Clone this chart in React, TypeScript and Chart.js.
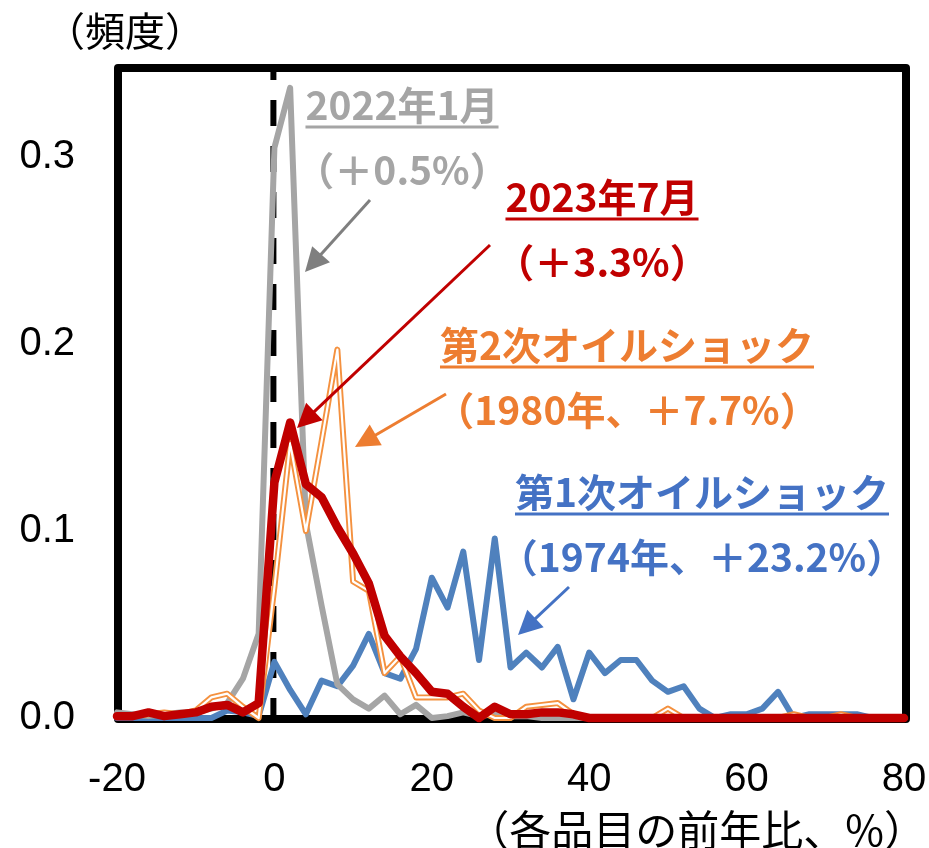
import React, { useEffect, useRef } from 'react';
import { Chart, registerables } from 'chart.js';

Chart.register(...registerables);

// ---- data (x: 前年比 bins, 2% step) ----
const xValues = [
  -20, -18, -16, -14, -12, -10, -8, -6, -4, -2,
  0, 2, 4, 6, 8, 10, 12, 14, 16, 18,
  20, 22, 24, 26, 28, 30, 32, 34, 36, 38,
  40, 42, 44, 46, 48, 50, 52, 54, 56, 58,
  60, 62, 64, 66, 68, 70, 72, 74, 76, 78, 80,
];

// 第1次オイルショック（1974年）
const freq1974 = [
  0, 0, 0, 0, 0, 0, 0, 0.004, 0.003, 0.001,
  0.030, 0.015, 0.002, 0.020, 0.017, 0.028, 0.045, 0.024, 0.021, 0.037,
  0.075, 0.059, 0.089, 0.031, 0.096, 0.027, 0.035, 0.027, 0.038, 0.010,
  0.035, 0.024, 0.031, 0.031, 0.020, 0.014, 0.017, 0.005, 0, 0.002,
  0.002, 0.005, 0.014, 0, 0.002, 0.002, 0.002, 0.002, 0, 0, 0,
];

// 2022年1月
const freq2022Jan = [
  0.003, 0.002, 0.001, 0.002, 0.003, 0.003, 0.005, 0.008, 0.021, 0.045,
  0.305, 0.337, 0.104, 0.060, 0.018, 0.010, 0.005, 0.012, 0.002, 0.007,
  0, 0.001, 0.003, 0.001, 0.002, 0.001, 0.001, 0, 0, 0,
  0, 0, 0, 0, 0, 0, 0, 0, 0, 0,
  0, 0, 0, 0, 0, 0, 0, 0, 0, 0, 0,
];

// 第2次オイルショック（1980年）
const freq1980 = [
  0.001, 0.001, 0.002, 0.003, 0.002, 0.004, 0.011, 0.013, 0.006, 0,
  0.070, 0.147, 0.100, 0.148, 0.197, 0.073, 0.068, 0.024, 0.033, 0.011,
  0.011, 0.011, 0.013, 0.004, 0, 0, 0.006, 0.007, 0.008, 0.002,
  0, 0, 0, 0, 0, 0.005, 0, 0, 0, 0,
  0, 0, 0, 0.002, 0, 0, 0.002, 0, 0, 0, 0,
];

// 2023年7月
const freq2023Jul = [
  0.001, 0.001, 0.003, 0.001, 0.002, 0.003, 0.006, 0.007, 0.003, 0.008,
  0.126, 0.158, 0.125, 0.118, 0.102, 0.088, 0.072, 0.044, 0.033, 0.024,
  0.014, 0.013, 0.006, 0, 0.006, 0.002, 0.002, 0.003, 0.003, 0.002,
  0, 0, 0, 0, 0, 0, 0, 0, 0, 0,
  0, 0, 0, 0, 0, 0, 0, 0, 0, 0, 0,
];

const xTickValues = [-20, 0, 20, 40, 60, 80];
const yTickValues = [0, 0.1, 0.2, 0.3];

const yTitle = '（頻度）';
const xTitle = '（各品目の前年比、%）';

const label2022 = ['2022年1月', '（＋0.5%）'];
const label2023 = ['2023年7月', '（＋3.3%）'];
const label1980 = ['第2次オイルショック', '（1980年、＋7.7%）'];
const label1974 = ['第1次オイルショック', '（1974年、＋23.2%）'];

const GRAY = '#A5A5A5';
const RED = '#C00000';
const ORANGE = '#ED7D31';
const BLUE = '#4F81BD';
const BLUE_TEXT = '#4472C4';

const pts = (arr: number[]) => xValues.map((x, i) => ({ x, y: arr[i] }));

function drawArrow(ctx: CanvasRenderingContext2D, x1: number, y1: number, x2: number, y2: number, color: string) {
  const headLen = 24;
  const headW = 24;
  const ang = Math.atan2(y2 - y1, x2 - x1);
  const c = Math.cos(ang), s = Math.sin(ang);
  const bx = x2 - headLen * c, by = y2 - headLen * s;
  ctx.save();
  ctx.strokeStyle = color;
  ctx.fillStyle = color;
  ctx.lineWidth = 3;
  ctx.beginPath();
  ctx.moveTo(x1, y1);
  ctx.lineTo(bx + 2 * c, by + 2 * s);
  ctx.stroke();
  ctx.beginPath();
  ctx.moveTo(x2, y2);
  ctx.lineTo(bx - (headW / 2) * s, by + (headW / 2) * c);
  ctx.lineTo(bx + (headW / 2) * s, by - (headW / 2) * c);
  ctx.closePath();
  ctx.fill();
  ctx.restore();
}

function drawLabel(ctx: CanvasRenderingContext2D, lines: string[], cx: number, y1: number, y2: number, color: string) {
  ctx.save();
  ctx.fillStyle = color;
  ctx.strokeStyle = color;
  ctx.font = 'bold 39px "Noto Sans CJK JP", sans-serif';
  ctx.textAlign = 'center';
  ctx.textBaseline = 'middle';
  ctx.fillText(lines[0], cx, y1);
  const w = ctx.measureText(lines[0]).width;
  ctx.lineWidth = 3;
  ctx.beginPath();
  ctx.moveTo(cx - w / 2, y1 + 22);
  ctx.lineTo(cx + w / 2, y1 + 22);
  ctx.stroke();
  ctx.fillText(lines[1], cx, y2);
  ctx.restore();
}

const annotPlugin = {
  id: 'annot',
  beforeDatasetsDraw(chart: any) {
    const { ctx, chartArea: ca, scales } = chart;
    ctx.save();
    // frame
    ctx.strokeStyle = '#000';
    ctx.lineWidth = 8;
    ctx.lineJoin = 'round';
    ctx.strokeRect(ca.left + 1, ca.top, ca.right - ca.left + 1, ca.bottom - ca.top + 1);
    // dashed line at 0
    const x0 = scales.x.getPixelForValue(0) - 1;
    ctx.lineWidth = 6;
    ctx.setLineDash([26, 20]);
    ctx.lineDashOffset = 14;
    ctx.beginPath();
    ctx.moveTo(x0, ca.top);
    ctx.lineTo(x0, ca.bottom);
    ctx.stroke();
    ctx.restore();
  },
  afterDraw(chart: any) {
    const { ctx } = chart;
    ctx.save();
    ctx.fillStyle = '#000';
    ctx.font = '40px "Noto Sans CJK JP", sans-serif';
    ctx.textAlign = 'left';
    ctx.textBaseline = 'middle';
    ctx.fillText(yTitle, 45, 31);
    ctx.font = '42px "Noto Sans CJK JP", sans-serif';
    ctx.textAlign = 'right';
    ctx.fillText(xTitle, 926, 830);
    ctx.restore();

    drawLabel(ctx, label2022, 402, 105, 170, GRAY);
    drawLabel(ctx, label2023, 602, 197, 262, RED);
    drawLabel(ctx, label1980, 627, 345, 410, ORANGE);
    drawLabel(ctx, label1974, 702, 492, 557, BLUE_TEXT);

    drawArrow(ctx, 370, 200, 305, 272, '#7F7F7F');
    drawArrow(ctx, 490, 245, 297, 428, RED);
    drawArrow(ctx, 446, 394, 355, 447, ORANGE);
    drawArrow(ctx, 569, 587, 518, 635, BLUE_TEXT);
  },
};

export default function App() {
  const ref = useRef<HTMLCanvasElement | null>(null);
  useEffect(() => {
    if (!ref.current) return;
    const common = { pointRadius: 0, tension: 0, borderJoinStyle: 'round', borderCapStyle: 'round', clip: false, fill: false };
    const chart = new Chart(ref.current, {
      type: 'line',
      data: {
        datasets: [
          { ...common, label: '第1次オイルショック', data: pts(freq1974), borderColor: BLUE, borderWidth: 6, order: 4 },
          { ...common, label: '2022年1月', data: pts(freq2022Jan), borderColor: GRAY, borderWidth: 6, order: 3 },
          { ...common, label: '第2次オイルショック', data: pts(freq1980), borderColor: '#F4913F', borderWidth: 6, order: 2 },
          { ...common, label: '第2次オイルショック(inner)', data: pts(freq1980), borderColor: '#FFFFFF', borderWidth: 2.2, order: 1 },
          { ...common, label: '2023年7月', data: pts(freq2023Jul), borderColor: RED, borderWidth: 8.5, order: 0 },
        ] as any,
      },
      options: {
        responsive: false,
        animation: false,
        devicePixelRatio: 1,
        layout: { padding: { top: 68, right: 25, bottom: 0, left: 0 } },
        plugins: { legend: { display: false }, tooltip: { enabled: false } },
        scales: {
          x: {
            type: 'linear',
            min: -20,
            max: 80,
            grid: { display: false, drawTicks: false },
            border: { display: false },
            afterBuildTicks: (s: any) => { s.ticks = xTickValues.map((v) => ({ value: v })); },
            afterFit: (s: any) => { s.height = 130; s.paddingLeft = 0; s.paddingRight = 0; },
            ticks: {
              padding: 38,
              color: '#000',
              maxRotation: 0,
              font: { family: '"Liberation Sans", sans-serif', size: 40 },
              callback: (v: any) => String(v),
            },
          },
          y: {
            type: 'linear',
            min: 0,
            max: 0.3476,
            grid: { display: false, drawTicks: false },
            border: { display: false },
            afterBuildTicks: (s: any) => { s.ticks = yTickValues.map((v) => ({ value: v })); },
            afterFit: (s: any) => { s.width = 117; s.paddingTop = 0; s.paddingBottom = 0; },
            ticks: {
              padding: 42,
              color: '#000',
              font: { family: '"Liberation Sans", sans-serif', size: 40 },
              callback: (v: any) => Number(v).toFixed(1),
            },
          },
        },
      } as any,
      plugins: [annotPlugin],
    });
    return () => chart.destroy();
  }, []);
  return (
    <div style={{ position: 'fixed', left: 0, top: 0, width: 929, height: 848, background: '#fff' }}>
      <canvas ref={ref} width={929} height={848} style={{ display: 'block' }} />
    </div>
  );
}
